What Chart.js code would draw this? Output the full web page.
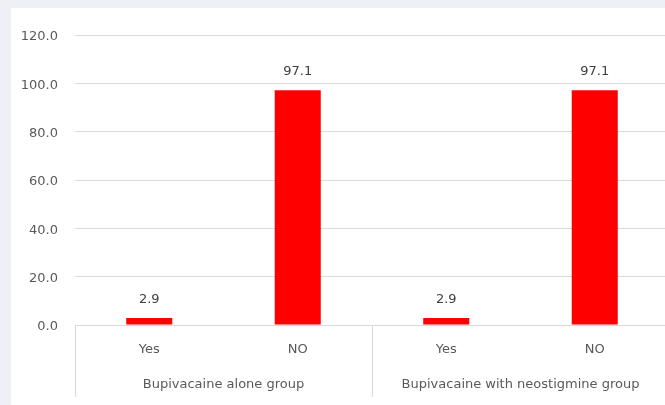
<!DOCTYPE html>
<html lang="en">
<head>
  <meta charset="UTF-8">
  <title>Bupivacaine groups</title>
  <style>
    body {
      margin: 0;
      background-color: #eff0f6;
      overflow: hidden;
      width: 665px;
      height: 405px;
    }
    .card {
      position: absolute;
      left: 11px;
      top: 8px;
      width: 660px;
      height: 397px;
      background-color: #fff;
    }
  </style>
  <script src="https://cdn.jsdelivr.net/npm/chart.js"></script>
</head>
<body>
  <div class="card">
    <canvas id="barChart"></canvas>
  </div>

  <script>
    // Sub-categories, their groups and the percentage values
    const answers = ['Yes', 'NO', 'Yes', 'NO'];
    const groups = ['Bupivacaine alone group', 'Bupivacaine with neostigmine group'];
    const percents = [2.9, 97.1, 2.9, 97.1];
    const yTicks = [0, 20, 40, 60, 80, 100, 120];

    const textColor = '#595959';
    const gridColor = '#d9d9d9';
    const fontFamily = '"DejaVu Sans", "Open Sans", sans-serif';

    // Value labels above each bar
    const valueLabels = {
      id: 'valueLabels',
      afterDatasetsDraw(chart) {
        const ctx = chart.ctx;
        const meta = chart.getDatasetMeta(0);
        ctx.save();
        ctx.font = '13px ' + fontFamily;
        ctx.fillStyle = '#404040';
        ctx.textAlign = 'center';
        ctx.textBaseline = 'alphabetic';
        meta.data.forEach((bar, i) => {
          ctx.fillText(percents[i].toFixed(1), bar.x, bar.y - 15);
        });
        ctx.restore();
      }
    };

    // Vertical separators between the groups on the category axis
    const groupSeparators = {
      id: 'groupSeparators',
      afterDraw(chart) {
        const ctx = chart.ctx;
        const x = chart.scales.x;
        const x2 = chart.scales.x2;
        const perGroup = answers.length / groups.length;
        ctx.save();
        ctx.strokeStyle = gridColor;
        ctx.lineWidth = 1;
        for (let g = 0; g <= groups.length; g++) {
          const idx = g * perGroup;
          let px;
          if (idx === 0) px = x.left;
          else if (idx >= answers.length) px = x.right;
          else px = (x.getPixelForValue(idx - 1) + x.getPixelForValue(idx)) / 2;
          px = Math.round(px) + 0.5;
          ctx.beginPath();
          ctx.moveTo(px, chart.chartArea.bottom);
          ctx.lineTo(px, x2.bottom - 8);
          ctx.stroke();
        }
        ctx.restore();
      }
    };

    new Chart(document.getElementById('barChart'), {
      type: 'bar',
      data: {
        labels: answers,
        datasets: [{
          data: percents,
          backgroundColor: '#ff0000',
          borderWidth: 0,
          barPercentage: 0.31,
          categoryPercentage: 1
        }]
      },
      options: {
        responsive: true,
        maintainAspectRatio: false,
        animation: false,
        layout: { padding: { top: 27, left: 0, right: 2, bottom: 0 } },
        plugins: {
          legend: { display: false },
          tooltip: { enabled: false }
        },
        scales: {
          y: {
            min: 0,
            max: 120,
            afterBuildTicks: scale => {
              scale.ticks = yTicks.map(v => ({ value: v }));
            },
            afterFit: scale => { scale.width = 64; },
            border: { display: false },
            grid: { color: gridColor, drawTicks: false },
            ticks: {
              color: textColor,
              font: { family: fontFamily, size: 13 },
              padding: 17,
              labelOffset: 2,
              callback: v => v.toFixed(1)
            }
          },
          x: {
            afterFit: scale => { scale.height = 37; },
            border: { display: true, color: gridColor },
            grid: { display: false, drawTicks: false },
            ticks: {
              color: textColor,
              font: { family: fontFamily, size: 13 },
              padding: 17,
              maxRotation: 0
            }
          },
          x2: {
            type: 'category',
            position: 'bottom',
            labels: groups,
            offset: true,
            afterFit: scale => { scale.height = 43; },
            border: { display: false },
            grid: { display: false, drawTicks: false },
            ticks: {
              color: textColor,
              font: { family: fontFamily, size: 13 },
              padding: 15,
              maxRotation: 0
            }
          }
        }
      },
      plugins: [valueLabels, groupSeparators]
    });
  </script>
</body>
</html>
